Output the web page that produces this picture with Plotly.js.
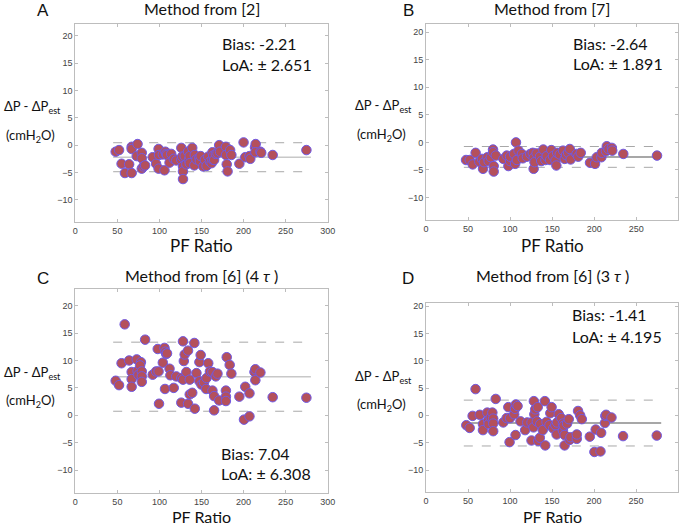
<!DOCTYPE html>
<html><head><meta charset="utf-8">
<script src="https://cdn.plot.ly/plotly-3.0.1.min.js"></script>
<style>body{margin:0;background:#fff}#chart{width:685px;height:525px}</style>
</head><body><div id="chart"></div>
<script>
// Panel A: Method from [2]
const pfA = [48,52,55,59,64,67,67,67,74,73,79,79,79,81,83,92,96,99,99,99.5,104,106,107,108,109,112,114,117,120,126,126,127,128,128,128,130,132,134,135,136,136,139,141.5,142,144,147.5,148,149,152,154,156,158,160,162,163,163,164,165,167,169,171,172,179,179,180,181,184,185.5,195,200,202,207,208,213.6,214.4,214,220,221,234.6,274.7];
const dA  = [-1.2,-0.9,-3.4,-5.1,-3.5,-0.3,-0.7,-5.1,0.2,-2.0,-1.4,-2.4,-4.3,-3.9,-3.7,-2.2,-3.4,-0.7,-4.3,-1.8,-1.7,-4.6,-1.2,-1.6,-1.8,-3.2,-1.6,-2.5,-2.8,-0.5,-2.7,-2.1,-3.9,-4.8,-6.2,-2.0,-3.5,-1.2,-2.7,-2.0,-3.3,-0.5,-3.7,-1.8,-2.6,-2.3,-2.9,-2.0,-3.9,-2.7,-3.8,-2.1,-3.0,-3.3,-2.6,-1.3,-1.9,-2.7,-1.6,-1.5,0.0,-1.2,-0.3,-1.8,-3.5,-4.8,-0.9,-1.8,-3.4,0.5,-2.2,-2.0,-2.5,-0.4,0.2,-1.3,-1.2,-1.4,-1.8,-0.9];
// Panel B: Method from [7]
const pfB = [47.6,52,55.5,59,63.4,66.6,67.8,69,73,74.5,77,79.7,79.7,80.5,80.5,83,92,96,98,100,100,104.6,107,106,108,110,114,115,120,124,127,128,128,129,131.5,135.5,137,139.5,142,143.5,147.5,149,151,154,155,156,159,163,165,166.5,169,171,172,179,181,184,195,201,203,208.5,209,214,215,217,221,221.5,234.6,274.7];
const dB  = [-3.2,-3.2,-4.0,-1.9,-3.5,-3.0,-4.8,-3.6,-2.7,-3.4,-2.7,-1.3,-1.8,-4.3,-5.3,-2.4,-3.0,-2.4,-4.3,-3.4,-2.6,-2.1,0.0,-3.9,-3.2,-1.5,-2.1,-2.9,-2.6,-2.1,-1.9,-2.8,-4.8,-3.6,-2.0,-2.6,-3.4,-1.3,-3.2,-2.5,-3.2,-1.4,-2.5,-3.3,-4.2,-1.9,-2.2,-1.5,-3.0,-2.3,-1.9,-1.2,-3.1,-2.1,-2.6,-1.9,-3.7,-3.9,-2.7,-2.7,-1.9,-1.6,-0.7,-1.2,-1.0,-1.5,-2.1,-2.4];
// Panel C: Method from [6] (4 tau)
const pfC = [48,52,58.7,55,64,67,67,67,73,74,75,78,77,79,79,79,83,92,96,99,98,99.5,104,106,107,108,106.6,109,112,113,117,120,126,126,128,128,129,130,134,132,134,136,136,139,141.5,142,144,147.5,149,147.5,150,153,155.5,156,158,160,163,163,165,165,167,169,171,180,179,179,179,183.5,185.5,195,200.5,202,207,207,213,214,214,220,234.6,274.7];
const dC  = [6.3,5.5,16.6,9.5,10.0,7.9,6.6,5.2,10.2,8.1,7.4,9.7,9.1,8.0,7.1,6.1,13.8,7.4,8.0,8.0,12.1,2.1,9.6,12.3,11.6,11.2,4.8,11.3,8.5,7.3,5.0,7.1,6.8,2.3,6.5,13.5,9.9,11.1,11.8,7.9,2.1,6.5,3.8,4.1,13.2,1.2,7.7,9.7,11.0,6.2,5.6,6.0,4.8,6.8,9.5,8.0,7.9,4.5,3.5,0.9,7.1,7.6,2.7,10.6,4.5,3.4,2.6,9.2,7.6,3.4,-0.8,5.2,4.0,-0.2,7.9,8.4,6.4,7.8,3.3,3.2];
// Panel D: Method from [6] (3 tau)
const pfD = [48,52,55.5,59,64,67.8,67.8,73,74,74.5,77,79,80,80,80,83,92,96,98,100,99.5,105,106,107,106.6,109,112.5,118,120.5,125.6,125.6,128,128.4,129,130,133,132,133.6,136,135.5,139,141.5,142,143.5,147,148,149.5,151.5,154,155.5,156,158,161,163,163,164,165,165,168,170,171,172,179.5,179.5,181,183.5,185.5,195,200.5,202,207.7,208.5,213,213.5,214.4,220.8,234.6,274.7];
const dD  = [-1.8,-2.3,-0.1,4.8,0.1,-1.6,-2.7,0.5,-0.9,-1.6,-0.4,0.5,-0.6,-1.5,-2.9,3.0,-1.3,-0.5,1.5,-0.5,-4.9,0.2,1.2,2.0,-3.6,1.7,-1.1,-2.7,-1.3,-1.3,-4.6,-2.2,2.6,0.2,1.1,1.5,-1.1,-4.7,-1.6,-4.1,-2.7,2.6,-5.5,-1.2,-1.8,0.4,1.5,-2.4,-1.8,-3.5,-1.3,0.2,-0.5,-1.5,-2.8,-1.9,-3.6,-5.5,-1.5,-0.7,-4.5,-4.0,-4.3,-3.5,0.8,0.0,-0.7,-3.9,-6.7,-2.6,-6.6,-3.2,-1.4,-0.1,0.1,-0.4,-3.8,-3.7];

const panelTitles = ['Method from [2]','Method from [7]','Method from [6] (4 <i>τ</i> )','Method from [6] (3 <i>τ</i> )'];
const panelLetters = ['A','B','C','D'];
const biasVals = [-2.21,-2.64,7.04,-1.41];
const loaVals = [2.651,1.891,6.308,4.195];
const lineSpan = [45,280];
const xTicks = [0,50,100,150,200,250,300];
const yTicks = [-10,-5,0,5,10,15,20];

const pfs=[pfA,pfB,pfC,pfD], ds=[dA,dB,dC,dD];
const W=685,H=525;
const boxes=[ // px: left,right,top,bottom
  [75.3,327.7,24.3,221.7],[426,678.3,24.3,220],[75.3,327.7,289.3,493.3],[426,678,303.3,492.3]];
const yranges=[[-14,22.1],[-14.1,21.45],[-14.25,23.0],[-14.08,20.5]];
const solidCol=['#c8c8c8','#8a8a8a','#c8c8c8','#8a8a8a'];
const traces=[]; const layout={width:W,height:H,margin:{l:0,r:0,t:0,b:0},showlegend:false,
  paper_bgcolor:'#fff',plot_bgcolor:'#fff',annotations:[]};
const tf={family:'Liberation Sans, Arial, sans-serif',size:9,color:'#444'};
const txtFont='Lato, Open Sans, sans-serif';
for(let i=0;i<4;i++){
  const s=i===0?'':String(i+1);
  const xa='x'+s, ya='y'+s;
  const b=boxes[i];
  const axCommon={showline:true,mirror:'ticks',linecolor:'#bdbdbd',linewidth:1,ticks:'inside',ticklen:3,tickcolor:'#bdbdbd',showgrid:false,zeroline:false,tickfont:tf};
  layout['xaxis'+s]=Object.assign({},axCommon,{domain:[b[0]/W,b[1]/W],range:[0,300],tickvals:xTicks,anchor:ya});
  layout['yaxis'+s]=Object.assign({},axCommon,{domain:[1-b[3]/H,1-b[2]/H],range:yranges[i],tickvals:yTicks,anchor:xa});
  const bi=biasVals[i], l=loaVals[i];
  traces.push({x:lineSpan,y:[bi+l,bi+l],xaxis:xa,yaxis:ya,mode:'lines',line:{color:'#a8a8a8',width:1,dash:'dash'},hoverinfo:'skip'});
  traces.push({x:lineSpan,y:[bi-l,bi-l],xaxis:xa,yaxis:ya,mode:'lines',line:{color:'#a8a8a8',width:1,dash:'dash'},hoverinfo:'skip'});
  traces.push({x:lineSpan,y:[bi,bi],xaxis:xa,yaxis:ya,mode:'lines',line:{color:solidCol[i],width:1.5},hoverinfo:'skip'});
  traces.push({x:pfs[i],y:ds[i],xaxis:xa,yaxis:ya,mode:'markers',marker:{size:9.5,color:'#b4505c',line:{color:'#6f5ae6',width:1}}});
  const cx=(b[0]+b[1])/2;
  const titleY=i<2?8:275;
  layout.annotations.push({xref:'paper',yref:'paper',x:cx/W,y:1-titleY/H,text:panelTitles[i],showarrow:false,xanchor:'center',yanchor:'middle',font:{family:txtFont,size:16,color:'#111'}});
  const letX=i%2===0?43:408, letY=i<2?11:278;
  layout.annotations.push({xref:'paper',yref:'paper',x:letX/W,y:1-letY/H,text:panelLetters[i],showarrow:false,xanchor:'center',yanchor:'middle',font:{family:'Liberation Sans, Arial, sans-serif',size:17,color:'#111'}});
  const xtY=i<2?245:516;
  layout.annotations.push({xref:'paper',yref:'paper',x:cx/W,y:1-xtY/H,text:'PF Ratio',showarrow:false,xanchor:'center',yanchor:'middle',font:{family:txtFont,size:i<2?17:16,color:'#111'}});
  const ylX=i%2===0?2:353;
  const ylY=[[107,136],[106,135],[373,401],[377,405]][i];
  layout.annotations.push({xref:'paper',yref:'paper',x:ylX/W,y:1-ylY[0]/H,text:'ΔP - ΔP<sub>est</sub>',showarrow:false,xanchor:'left',yanchor:'middle',font:{family:txtFont,size:13,color:'#111'}});
  layout.annotations.push({xref:'paper',yref:'paper',x:(ylX+2)/W,y:1-ylY[1]/H,text:'(cmH<sub>2</sub>O)',showarrow:false,xanchor:'left',yanchor:'middle',font:{family:txtFont,size:13,color:'#111'}});
  const bp=[[220,44,64],[571,43,63],[219,453,473],[570,314,336]][i];
  layout.annotations.push({xref:'paper',yref:'paper',x:bp[0]/W,y:1-bp[1]/H,text:'Bias: '+bi.toFixed(2),showarrow:false,xanchor:'left',yanchor:'middle',font:{family:txtFont,size:16,color:'#111'}});
  layout.annotations.push({xref:'paper',yref:'paper',x:bp[0]/W,y:1-bp[2]/H,text:'LoA: ± '+l.toFixed(3),showarrow:false,xanchor:'left',yanchor:'middle',font:{family:txtFont,size:16,color:'#111'}});
}
Plotly.newPlot('chart',traces,layout,{displayModeBar:false,staticPlot:true});
</script></body></html>
